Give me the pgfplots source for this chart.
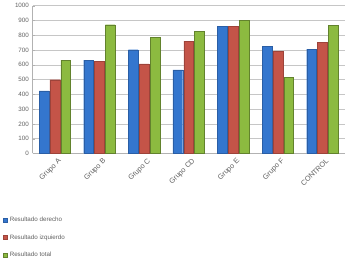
\documentclass[border=0pt]{standalone}
\usepackage{pgfplots}
\pgfplotsset{compat=1.18}
\usepackage{fontspec}
\setmainfont{Liberation Sans}
\definecolor{cblue}{RGB}{52,118,206}
\definecolor{cred}{RGB}{196,84,72}
\definecolor{cgreen}{RGB}{140,186,64}
\begin{document}
\begin{tikzpicture}
\begin{axis}[
  scale only axis,
  width=300pt, height=142pt,
  ybar=1pt,
  bar width=0.22,
  ymin=0, ymax=1000,
  ytick={0,100,...,1000},
  xmin=-0.5, xmax=6.5,
  xtick={0,...,6},
  xticklabels={Grupo A,Grupo B,Grupo C,Grupo CD,Grupo E,Grupo F,CONTROL},
  x tick label style={rotate=45, anchor=north east, font=\fontsize{7}{8}\selectfont, text=gray!75!black, xshift=4pt},
  y tick label style={font=\fontsize{6}{7}\selectfont, text=gray!75!black},
  /pgf/number format/assume math mode=true,
  /pgf/number format/1000 sep={},
  axis lines*=left,
  axis line style={gray!60},
  ymajorgrids,
  grid style={gray!45},
  major tick length=2pt,
  tick style={gray!60},
  xtick style={draw=none},
  legend style={at={(-0.105,-0.40)}, anchor=north west, draw=none, fill=none,
    font=\fontsize{6}{7}\selectfont, text=gray!75!black, row sep=7pt,
    legend cell align=left},
  legend image code/.code={\fill[#1] (0cm,-0.07cm) rectangle (0.14cm,0.07cm);},
]
\addplot[fill=cblue, draw=cblue!80!black] coordinates {(0,424) (1,631) (2,702) (3,565) (4,859) (5,725) (6,706)};
\addplot[fill=cred, draw=cred!80!black] coordinates {(0,499) (1,624) (2,607) (3,760) (4,859) (5,689) (6,753)};
\addplot[fill=cgreen, draw=cgreen!70!black] coordinates {(0,631) (1,871) (2,784) (3,828) (4,901) (5,513) (6,866)};
\legend{Resultado derecho, Resultado izquierdo, Resultado total}
\end{axis}
\end{tikzpicture}
\end{document}
